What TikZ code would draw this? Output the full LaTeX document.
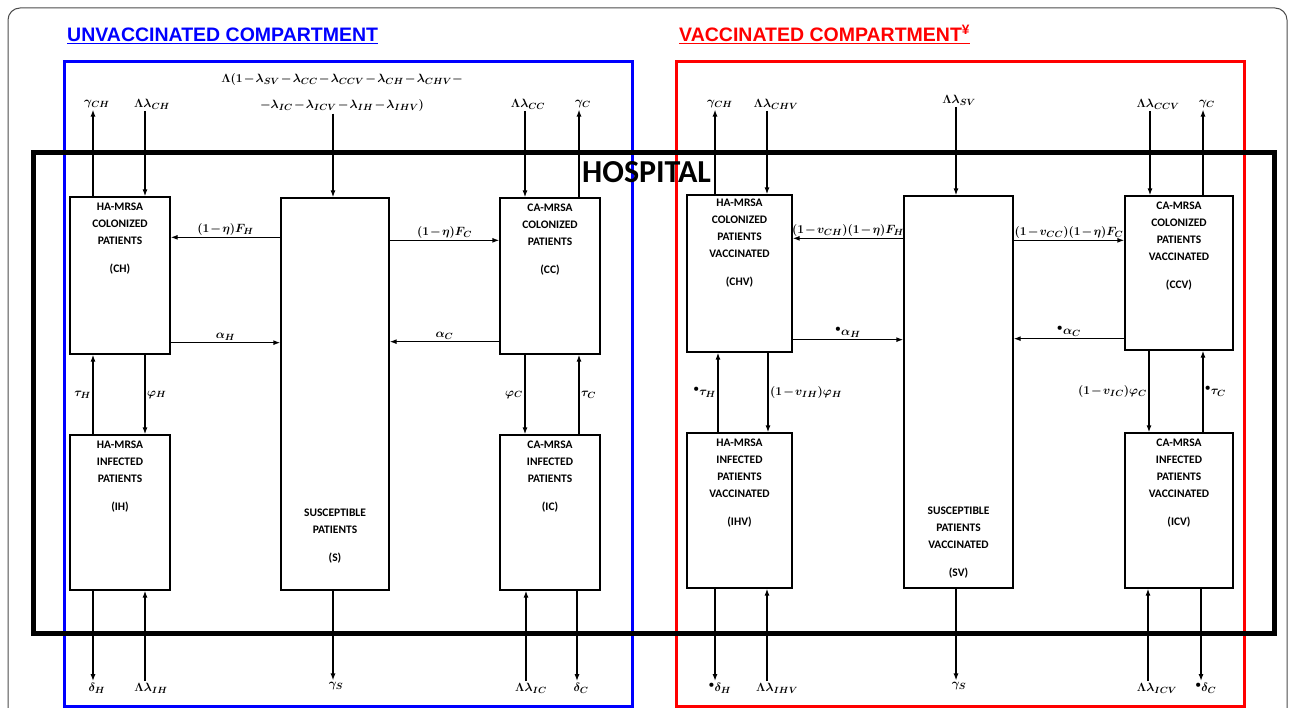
\documentclass[tikz,border=0pt]{standalone}
\usepackage{fontspec}
\newfontfamily\boxfont{Carlito}
\newfontfamily\headfont{Liberation Sans}
\usetikzlibrary{arrows.meta}
\newcommand\lblfont[1]{\fontsize{#1}{26}\selectfont\boldmath\medmuskip=1.5mu\relax}

\begin{document}
\begin{tikzpicture}[x=1pt,y=-1pt,
    box/.style={draw,line width=1.3pt,inner sep=0pt},
    boxtxt/.style={anchor=north,align=center,inner sep=0pt,font=\boxfont\bfseries\fontsize{11.5}{17}\selectfont},
    arr/.style={line width=1.3pt,-{Latex[length=7pt,width=5pt]}},
    lbl/.style={inner sep=1.5pt,font=\lblfont{13}}]
  \useasboundingbox (0,0) rectangle (1292,708);
  \draw[black!70,line width=1pt,rounded corners=12pt] (8,720) |- (1287,8) -- (1287,720);
  \node[anchor=base west,inner sep=0pt,text=blue,font=\headfont\bfseries\fontsize{19.5}{22}\selectfont] (TU) at (67,42) {\underline{UNVACCINATED COMPARTMENT}};
  \node[anchor=base west,inner sep=0pt,text=red,font=\headfont\bfseries\fontsize{19.5}{22}\selectfont] (TV) at (679,42) {\underline{VACCINATED COMPARTMENT\textsuperscript{¥}}};
  \draw[blue,line width=3pt] (64,62) rectangle (632,706);
  \draw[red,line width=3pt] (676,62) rectangle (1244,706);
  \draw[line width=5pt] (33,153) rectangle (1274,633);
  \node[anchor=west,inner sep=0pt,font=\boxfont\bfseries\fontsize{32}{34}\selectfont] (HOSP) at (582,172) {HOSPITAL};

  % unvaccinated boxes
  \node[box,minimum width=100pt,minimum height=157pt,label={[boxtxt,yshift=-6pt]north:HA-MRSA\\COLONIZED\\PATIENTS\\[11pt](CH)}] (CH) at (120,275.5) {};
  \node[box,minimum width=108pt,minimum height=392pt,label={[boxtxt,yshift=-311pt]north:SUSCEPTIBLE\\PATIENTS\\[11pt](S)}] (S) at (335,394) {};
  \node[box,minimum width=100pt,minimum height=156pt,label={[boxtxt,yshift=-6pt]north:CA-MRSA\\COLONIZED\\PATIENTS\\[11pt](CC)}] (CC) at (550,276) {};
  \node[box,minimum width=100pt,minimum height=155pt,label={[boxtxt,yshift=-6pt]north:HA-MRSA\\INFECTED\\PATIENTS\\[11pt](IH)}] (IH) at (120,512.5) {};
  \node[box,minimum width=100pt,minimum height=155pt,label={[boxtxt,yshift=-6pt]north:CA-MRSA\\INFECTED\\PATIENTS\\[11pt](IC)}] (IC) at (550,512.5) {};

  % vaccinated boxes
  \node[box,minimum width=105pt,minimum height=157pt,label={[boxtxt,yshift=-4pt]north:HA-MRSA\\COLONIZED\\PATIENTS\\VACCINATED\\[11pt](CHV)}] (CHV) at (739.5,273.5) {};
  \node[box,minimum width=109pt,minimum height=392pt,label={[boxtxt,yshift=-311pt]north:SUSCEPTIBLE\\PATIENTS\\VACCINATED\\[11pt](SV)}] (SV) at (958.5,392) {};
  \node[box,minimum width=108pt,minimum height=154pt,label={[boxtxt,yshift=-6pt]north:CA-MRSA\\COLONIZED\\PATIENTS\\VACCINATED\\[11pt](CCV)}] (CCV) at (1179,273) {};
  \node[box,minimum width=105pt,minimum height=155pt,label={[boxtxt,yshift=-6pt]north:HA-MRSA\\INFECTED\\PATIENTS\\VACCINATED\\[11pt](IHV)}] (IHV) at (739.5,510.5) {};
  \node[box,minimum width=108pt,minimum height=155pt,label={[boxtxt,yshift=-6pt]north:CA-MRSA\\INFECTED\\PATIENTS\\VACCINATED\\[11pt](ICV)}] (ICV) at (1179,510.5) {};

  % inflow and outflow labels
  \node[lbl] (gCH) at (97,104) {$\gamma_{CH}$};
  \node[lbl] (LCH) at (152,104) {$\Lambda\lambda_{CH}$};
  \node[lbl,align=center,font=\lblfont{12.5}] (LS) at (342,93) {$\Lambda(1-\lambda_{SV}-\lambda_{CC}-\lambda_{CCV}-\lambda_{CH}-\lambda_{CHV}-$\\$-\lambda_{IC}-\lambda_{ICV}-\lambda_{IH}-\lambda_{IHV})$};
  \node[lbl] (LCC) at (528,104) {$\Lambda\lambda_{CC}$};
  \node[lbl] (gC) at (583,104) {$\gamma_{C}$};
  \node[lbl] (dH) at (97,688) {$\delta_{H}$};
  \node[lbl] (LIH) at (151,688) {$\Lambda\lambda_{IH}$};
  \node[lbl] (gS) at (336,686) {$\gamma_{S}$};
  \node[lbl] (LIC) at (531,688) {$\Lambda\lambda_{IC}$};
  \node[lbl] (dC) at (581,688) {$\delta_{C}$};

  \node[lbl] (gCHV) at (720,104) {$\gamma_{CH}$};
  \node[lbl] (LCHV) at (776,104) {$\Lambda\lambda_{CHV}$};
  \node[lbl] (LSV) at (959,100) {$\Lambda\lambda_{SV}$};
  \node[lbl] (LCCV) at (1158,104) {$\Lambda\lambda_{CCV}$};
  \node[lbl] (gCV) at (1207,104) {$\gamma_{C}$};
  \node[lbl] (dHV) at (720,688) {${}^{\bullet}\delta_{H}$};
  \node[lbl] (LIHV) at (777,688) {$\Lambda\lambda_{IHV}$};
  \node[lbl] (gSV) at (959,686) {$\gamma_{S}$};
  \node[lbl] (LICV) at (1157,688) {$\Lambda\lambda_{ICV}$};
  \node[lbl] (dCV) at (1206,688) {${}^{\bullet}\delta_{C}$};

  % unvaccinated flows
  \draw[arr] ([xshift=-27pt]CH.north) -- ([xshift=-27pt]CH.north |- gCH.south);
  \draw[arr] ([xshift=25pt]CH.north |- LCH.south) -- ([xshift=25pt]CH.north);
  \draw[arr] ([xshift=-2pt]S.north |- LS.south) -- ([xshift=-2pt]S.north);
  \draw[arr] ([xshift=-25pt]CC.north |- LCC.south) -- ([xshift=-25pt]CC.north);
  \draw[arr] ([xshift=29pt]CC.north) -- ([xshift=29pt]CC.north |- gC.south);
  \draw[arr] ([yshift=-40pt]S.north west) -- ([yshift=-40pt]S.north west -| CH.east) node[lbl,midway,above] {$(1-\eta)F_{H}$};
  \draw[arr] ([yshift=-43pt]S.north east) -- ([yshift=-43pt]S.north east -| CC.west) node[lbl,midway,above] {$(1-\eta)F_{C}$};
  \draw[arr] ([yshift=12pt]CH.south east) -- ([yshift=12pt]CH.south east -| S.west) node[lbl,midway,above] {$\alpha_{H}$};
  \draw[arr] ([yshift=13pt]CC.south west) -- ([yshift=13pt]CC.south west -| S.east) node[lbl,midway,above] {$\alpha_{C}$};
  \draw[arr] ([xshift=-27pt]IH.north) -- ([xshift=-27pt]CH.south) node[lbl,midway,left] {$\tau_{H}$};
  \draw[arr] ([xshift=25pt]CH.south) -- ([xshift=25pt]IH.north) node[lbl,midway,right] {$\varphi_{H}$};
  \draw[arr] ([xshift=-25pt]CC.south) -- ([xshift=-25pt]IC.north) node[lbl,midway,left] {$\varphi_{C}$};
  \draw[arr] ([xshift=29pt]IC.north) -- ([xshift=29pt]CC.south) node[lbl,midway,right] {$\tau_{C}$};
  \draw[arr] ([xshift=-27pt]IH.south) -- ([xshift=-27pt]IH.south |- dH.north);
  \draw[arr] ([xshift=25pt]IH.south |- LIH.north) -- ([xshift=25pt]IH.south);
  \draw[arr] ([xshift=-2pt]S.south) -- ([xshift=-2pt]S.south |- gS.north);
  \draw[arr] ([xshift=-24pt]IC.south |- LIC.north) -- ([xshift=-24pt]IC.south);
  \draw[arr] ([xshift=27pt]IC.south) -- ([xshift=27pt]IC.south |- dC.north);

  % vaccinated flows
  \draw[arr] ([xshift=-24.5pt]CHV.north) -- ([xshift=-24.5pt]CHV.north |- gCHV.south);
  \draw[arr] ([xshift=27.5pt]CHV.north |- LCHV.south) -- ([xshift=27.5pt]CHV.north);
  \draw[arr] ([xshift=-2.5pt]SV.north |- LSV.south) -- ([xshift=-2.5pt]SV.north);
  \draw[arr] ([xshift=-29pt]CCV.north |- LCCV.south) -- ([xshift=-29pt]CCV.north);
  \draw[arr] ([xshift=24pt]CCV.north) -- ([xshift=24pt]CCV.north |- gCV.south);
  \draw[arr] ([yshift=-43pt]SV.north west) -- ([yshift=-43pt]SV.north west -| CHV.east) node[lbl,midway,above,inner sep=1pt] {$(1-v_{CH})(1-\eta)F_{H}$};
  \draw[arr] ([yshift=-45pt]SV.north east) -- ([yshift=-45pt]SV.north east -| CCV.west) node[lbl,midway,above,inner sep=1pt] {$(1-v_{CC})(1-\eta)F_{C}$};
  \draw[arr] ([yshift=13pt]CHV.south east) -- ([yshift=13pt]CHV.south east -| SV.west) node[lbl,midway,above] {${}^{\bullet}\alpha_{H}$};
  \draw[arr] ([yshift=12pt]CCV.south west) -- ([yshift=12pt]CCV.south west -| SV.east) node[lbl,midway,above] {${}^{\bullet}\alpha_{C}$};
  \draw[arr] ([xshift=-21.5pt]IHV.north) -- ([xshift=-21.5pt]CHV.south) node[lbl,midway,left] {${}^{\bullet}\tau_{H}$};
  \draw[arr] ([xshift=28.5pt]CHV.south) -- ([xshift=28.5pt]IHV.north) node[lbl,midway,right] {$(1-v_{IH})\varphi_{H}$};
  \draw[arr] ([xshift=-30pt]CCV.south) -- ([xshift=-30pt]ICV.north) node[lbl,midway,left] {$(1-v_{IC})\varphi_{C}$};
  \draw[arr] ([xshift=24pt]ICV.north) -- ([xshift=24pt]CCV.south) node[lbl,midway,right] {${}^{\bullet}\tau_{C}$};
  \draw[arr] ([xshift=-24.5pt]IHV.south) -- ([xshift=-24.5pt]IHV.south |- dHV.north);
  \draw[arr] ([xshift=27.5pt]IHV.south |- LIHV.north) -- ([xshift=27.5pt]IHV.south);
  \draw[arr] ([xshift=-2.5pt]SV.south) -- ([xshift=-2.5pt]SV.south |- gSV.north);
  \draw[arr] ([xshift=-31pt]ICV.south |- LICV.north) -- ([xshift=-31pt]ICV.south);
  \draw[arr] ([xshift=22pt]ICV.south) -- ([xshift=22pt]ICV.south |- dCV.north);
\end{tikzpicture}
\end{document}
